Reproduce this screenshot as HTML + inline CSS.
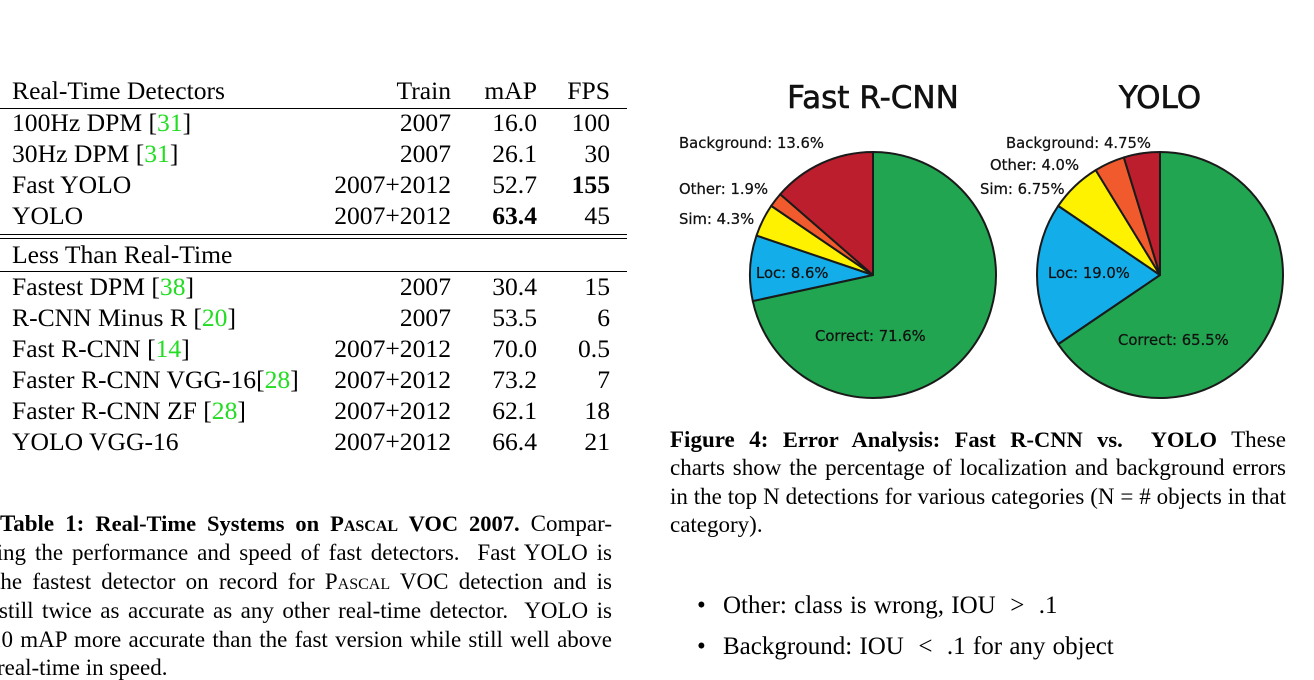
<!DOCTYPE html>
<html><head><meta charset="utf-8">
<style>
html,body{margin:0;padding:0;background:#fff;}
body{width:1314px;height:676px;position:relative;overflow:hidden;font-family:"Liberation Serif",serif;color:#000;}
.t{position:absolute;font-size:25.6px;line-height:24px;white-space:nowrap;}
.r{text-align:right;}
.hr{position:absolute;left:0;width:627px;height:1px;background:#000;}
.cap{position:absolute;font-size:23px;line-height:22px;white-space:nowrap;text-align:justify;text-align-last:justify;}
.g{color:#22dd22;}
.sc{font-variant:small-caps;}
.bl{position:absolute;font-size:25px;line-height:24px;white-space:nowrap;word-spacing:1px;}
</style></head><body>
<div>
<div class="t" style="left:12px;top:79px">Real-Time Detectors</div>
<div class="t r" style="left:351px;width:100px;top:79px">Train</div>
<div class="t r" style="left:457px;width:80px;top:79px">mAP</div>
<div class="t r" style="left:540px;width:70px;top:79px">FPS</div>
<div class="hr" style="top:108px"></div>
<div class="hr" style="top:234px"></div>
<div class="hr" style="top:238px"></div>
<div class="t" style="left:12px;top:243px">Less Than Real-Time</div>
<div class="hr" style="top:271px"></div>
<div id="rows"></div>
</div>

<div>
<div class="cap" style="left:0;width:612px;top:513px"><b>Table 1: <span style="font-size:22.5px">Real-Time Systems on P<span class="sc">ascal</span> VOC 2007.</span></b> Compar-</div>
<div class="cap" style="left:-11px;width:623px;top:542px">ring the performance and speed of fast detectors.&nbsp; Fast YOLO is</div>
<div class="cap" style="left:-6px;width:618px;top:571px">the fastest detector on record for P<span class="sc">ascal</span> VOC detection and is</div>
<div class="cap" style="left:-1px;width:613px;top:600px">still twice as accurate as any other real-time detector.&nbsp; YOLO is</div>
<div class="cap" style="left:-10px;width:622px;top:629px">10 mAP more accurate than the fast version while still well above</div>
<div class="cap" style="left:-3px;top:657px;text-align:left;text-align-last:left">real-time in speed.</div>
</div>

<svg id="pies" width="1314" height="676" style="position:absolute;left:0;top:0"></svg>

<div>
<div class="cap" style="left:670px;width:616px;top:429px"><b>Figure 4: <span style="font-size:22.5px">Error Analysis: Fast R-CNN vs.&nbsp; YOLO</span></b> These</div>
<div class="cap" style="left:670px;width:616px;top:457px">charts show the percentage of localization and background errors</div>
<div class="cap" style="left:670px;width:616px;top:486px">in the top N detections for various categories (N = # objects in that</div>
<div class="cap" style="left:670px;top:514px;text-align:left;text-align-last:left">category).</div>
</div>
<div class="bl" style="left:697px;top:594px">•<span style="position:absolute;left:26px">Other: class is wrong, IOU&nbsp;&nbsp;&gt;&nbsp;&nbsp;.1</span></div>
<div class="bl" style="left:697px;top:635px">•<span style="position:absolute;left:26px">Background: IOU&nbsp;&nbsp;&lt;&nbsp;&nbsp;.1 for any object</span></div>

<script>
const rowNames=[['100Hz DPM ','31'],['30Hz DPM ','31'],['Fast YOLO',''],['YOLO',''],['Fastest DPM ','38'],['R-CNN Minus R ','20'],['Fast R-CNN ','14'],['Faster R-CNN VGG-16','28'],['Faster R-CNN ZF ','28'],['YOLO VGG-16','']];
const rowTrain=['2007','2007','2007+2012','2007+2012','2007','2007','2007+2012','2007+2012','2007+2012','2007+2012'];
const rowMap=['16.0','26.1','52.7','<b>63.4</b>','30.4','53.5','70.0','73.2','62.1','66.4'];
const rowFps=['100','30','<b>155</b>','45','15','6','0.5','7','18','21'];
const rowTops=[111,142,173,204,275,306,337,368,399,430];
const rows=document.getElementById('rows');
rowNames.forEach((n,i)=>{
  const y=rowTops[i];
  const nm=n[0]+(n[1]?'[<span class="g">'+n[1]+'</span>]':'');
  const d=document.createElement('div');
  
  
  d.innerHTML=`<div class="t" style="left:12px;top:${y}px">${nm}</div>
<div class="t r" style="left:301px;width:150px;top:${y}px">${rowTrain[i]}</div>
<div class="t r" style="left:457px;width:80px;top:${y}px">${rowMap[i]}</div>
<div class="t r" style="left:540px;width:70px;top:${y}px">${rowFps[i]}</div>`;
  rows.appendChild(d);
});

const categories=['Correct','Loc','Sim','Other','Background'];
const fastRcnnValues=[71.6,8.6,4.3,1.9,13.6];
const yoloValues=[65.5,19.0,6.75,4.0,4.75];
const fastRcnnLabels=['Correct: 71.6%','Loc: 8.6%','Sim: 4.3%','Other: 1.9%','Background: 13.6%'];
const yoloLabels=['Correct: 65.5%','Loc: 19.0%','Sim: 6.75%','Other: 4.0%','Background: 4.75%'];
const colors=['#21a550','#13aeea','#fff200','#f15a2c','#bd1e2d'];
const NS='http://www.w3.org/2000/svg';
const svg=document.getElementById('pies');
function mk(t,a){const e=document.createElementNS(NS,t);for(const k in a)e.setAttribute(k,a[k]);svg.appendChild(e);return e;}
function pie(cx,cy,r,vals,labels,labelPos,title,key){
  const tt=mk('text',{x:cx,y:cy-167,'text-anchor':'middle','font-family':'DejaVu Sans, sans-serif','font-size':31,fill:'#111',stroke:'#111','stroke-width':0.6});
  tt.textContent=title;
  
  
  const tot=vals.reduce((a,b)=>a+b,0);
  let a0=0;
  vals.forEach((v,i)=>{
    const a1=a0+v/tot*2*Math.PI;
    const x0=cx+r*Math.sin(a0),y0=cy-r*Math.cos(a0),x1=cx+r*Math.sin(a1),y1=cy-r*Math.cos(a1);
    const p=mk('path',{d:`M${cx},${cy}L${x0},${y0}A${r},${r} 0 ${a1-a0>Math.PI?1:0} 1 ${x1},${y1}Z`,fill:colors[i],stroke:'#1a1a1a','stroke-width':2,'stroke-linejoin':'round'});
    
    
    a0=a1;
  });
  labels.forEach((l,i)=>{
    const t=mk('text',{x:labelPos[i][0],y:labelPos[i][1],'font-family':'DejaVu Sans, sans-serif','font-size':14.8,fill:'#111',stroke:'#111','stroke-width':0.25});
    t.textContent=l;
    
    
  });
}
pie(873,275,123,fastRcnnValues,fastRcnnLabels,[[815,341],[756,278],[679,224],[679,194],[679,148]],'Fast R-CNN','fast-rcnn');
pie(1160,275,123,yoloValues,yoloLabels,[[1118,345],[1048,278],[980,194],[990,170],[1006,148]],'YOLO','yolo');
</script>
</body></html>
